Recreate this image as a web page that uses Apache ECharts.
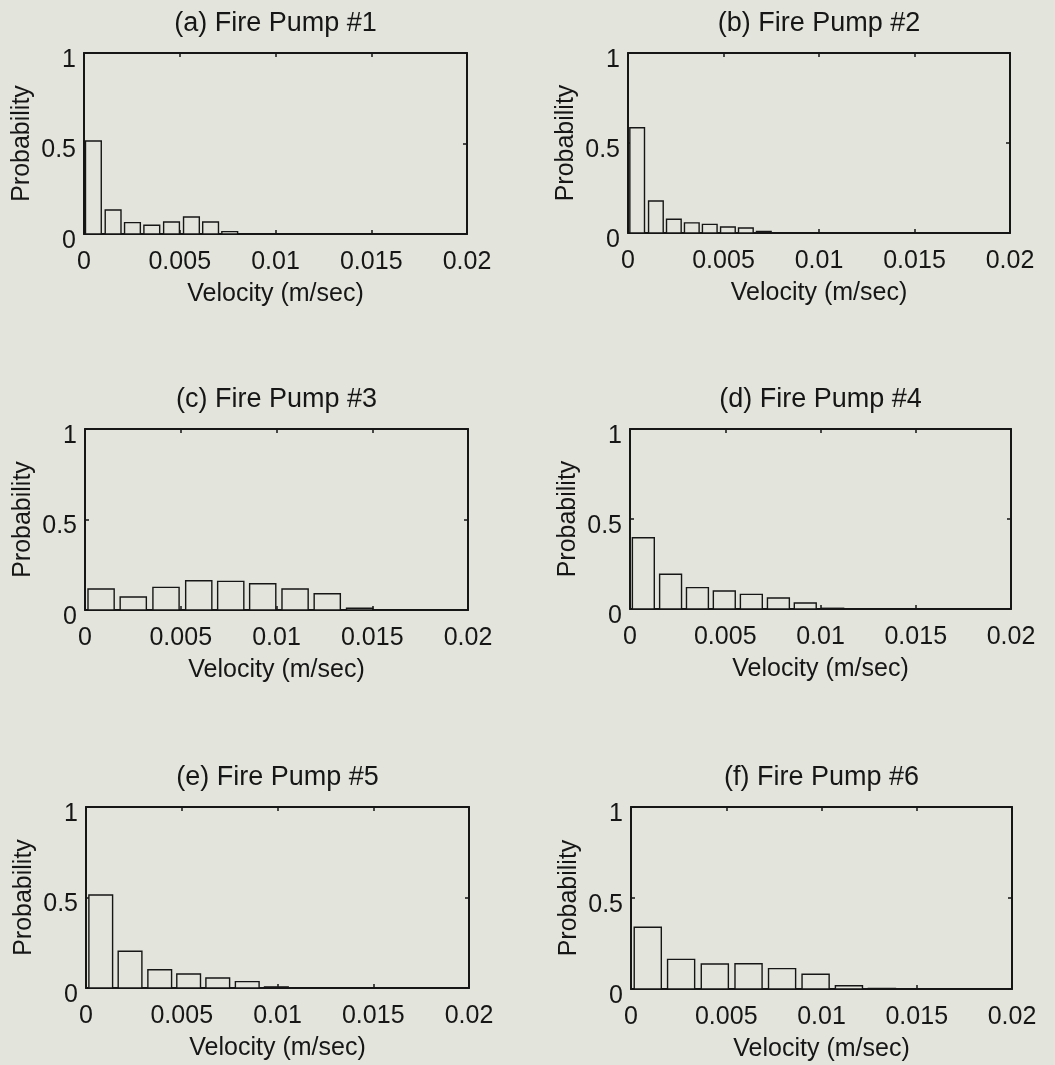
<!DOCTYPE html>
<html><head><meta charset="utf-8">
<script src="https://cdn.jsdelivr.net/npm/echarts@6/dist/echarts.min.js"></script>
<style>html,body{margin:0;padding:0;background:#e3e4dc}#c{width:1055px;height:1065px}</style>
</head><body><div id="c"></div><script>
// ---- data ----
const titles = ['(a) Fire Pump #1','(b) Fire Pump #2','(c) Fire Pump #3','(d) Fire Pump #4','(e) Fire Pump #5','(f) Fire Pump #6'];
const xTickValues = [0, 0.005, 0.01, 0.015, 0.02];
const xTickLabels = ['0', '0.005', '0.01', '0.015', '0.02'];
const yTickValues = [0, 0.5, 1];
const yTickLabels = ['0', '0.5', '1'];
const xName = 'Velocity (m/sec)';
const yName = 'Probability';

const centersA = [0.00049, 0.00152, 0.00253, 0.00354, 0.00457, 0.00561, 0.00661, 0.00761];
const probA    = [0.514, 0.133, 0.063, 0.048, 0.066, 0.094, 0.066, 0.013];
const centersB = [0.00048, 0.00146, 0.00240, 0.00334, 0.00428, 0.00523, 0.00617, 0.00711];
const probB    = [0.585, 0.178, 0.076, 0.056, 0.048, 0.033, 0.028, 0.008];
const centersC = [0.00084, 0.00252, 0.00423, 0.00594, 0.00761, 0.00928, 0.01097, 0.01265, 0.01434];
const probC    = [0.116, 0.072, 0.125, 0.162, 0.158, 0.145, 0.116, 0.090, 0.010];
const centersD = [0.00070, 0.00213, 0.00354, 0.00495, 0.00637, 0.00779, 0.00920, 0.01064];
const probD    = [0.396, 0.193, 0.119, 0.100, 0.081, 0.061, 0.033, 0.004];
const centersE = [0.00077, 0.00230, 0.00385, 0.00536, 0.00688, 0.00842, 0.00994];
const probE    = [0.514, 0.203, 0.101, 0.077, 0.055, 0.035, 0.006];
const centersF = [0.00088, 0.00263, 0.00440, 0.00617, 0.00793, 0.00969, 0.01144, 0.01317];
const probF    = [0.339, 0.163, 0.137, 0.139, 0.112, 0.081, 0.018, 0.003];

const centers = [centersA, centersB, centersC, centersD, centersE, centersF];
const probs = [probA, probB, probC, probD, probE, probF];

// ---- layout / style ----
const panels = [
  {left: 84,  top: 53,  w: 383, h: 181},
  {left: 628, top: 53,  w: 382, h: 180},
  {left: 85,  top: 429, w: 383, h: 181},
  {left: 630, top: 429, w: 381, h: 180},
  {left: 86,  top: 807, w: 383, h: 181},
  {left: 631, top: 807, w: 381, h: 182}
];
const ink = '#161616';
const bg = '#e3e4dc';
const FONT = '"Liberation Sans", Arial, Helvetica, sans-serif';
const FS = 25;

function lbl(vals, labels) {
  return v => { const i = vals.findIndex(t => Math.abs(t - v) < 1e-9); return i >= 0 ? labels[i] : ''; };
}

const grid = [], xAxis = [], yAxis = [], series = [], title = [];
panels.forEach((p, i) => {
  grid.push({left: p.left, top: p.top, width: p.w, height: p.h, show: false});
  const line = {show: true, onZero: false, lineStyle: {color: ink, width: 2}};
  const tick = {show: true, inside: true, length: 4, lineStyle: {color: ink, width: 1.5}};
  xAxis.push({
    gridIndex: i, type: 'value', min: 0, max: 0.02, interval: 0.005, position: 'bottom',
    axisLine: line, axisTick: tick, splitLine: {show: false},
    axisLabel: {margin: 16, fontSize: FS, fontFamily: FONT, color: ink, formatter: lbl(xTickValues, xTickLabels)},
    name: xName, nameLocation: 'middle', nameGap: 48,
    nameTextStyle: {fontSize: FS, fontFamily: FONT, color: ink}
  });
  xAxis.push({
    gridIndex: i, type: 'value', min: 0, max: 0.02, interval: 0.005, position: 'top',
    axisLine: line, axisTick: tick, splitLine: {show: false}, axisLabel: {show: false}
  });
  yAxis.push({
    gridIndex: i, type: 'value', min: 0, max: 1, interval: 0.5, position: 'left',
    axisLine: line, axisTick: tick, splitLine: {show: false},
    axisLabel: {margin: 8, fontSize: FS, fontFamily: FONT, color: ink, verticalAlign: 'top', lineHeight: 14,
      formatter: lbl(yTickValues, yTickLabels)},
    name: yName, nameLocation: 'middle', nameGap: 49, nameRotate: 90,
    nameTextStyle: {fontSize: FS, fontFamily: FONT, color: ink}
  });
  yAxis.push({
    gridIndex: i, type: 'value', min: 0, max: 1, interval: 0.5, position: 'right',
    axisLine: line, axisTick: tick, splitLine: {show: false}, axisLabel: {show: false}
  });
  const c = centers[i];
  const binW = (c[c.length - 1] - c[0]) / (c.length - 1);
  const barW = binW * 0.81;
  series.push({
    type: 'custom', xAxisIndex: 2 * i, yAxisIndex: 2 * i,
    data: c.map((x, k) => [x, probs[i][k]]),
    renderItem: (params, api) => {
      const x = api.value(0), h = api.value(1);
      const p0 = api.coord([x - barW / 2, 0]);
      const p1 = api.coord([x + barW / 2, h]);
      return {
        type: 'rect',
        shape: {x: p0[0], y: p1[1], width: p1[0] - p0[0], height: p0[1] - p1[1]},
        style: {fill: bg, stroke: ink, lineWidth: 1.4}
      };
    },
    z: 1
  });
  title.push({
    text: titles[i], left: p.left + p.w / 2, top: p.top - 43, textAlign: 'center', padding: 0,
    textStyle: {fontSize: 27, fontWeight: 'normal', fontFamily: FONT, color: ink}
  });
});

const chart = echarts.init(document.getElementById('c'), null, {renderer: 'canvas'});
chart.setOption({backgroundColor: bg, animation: false, title, grid, xAxis, yAxis, series});
</script></body></html>
